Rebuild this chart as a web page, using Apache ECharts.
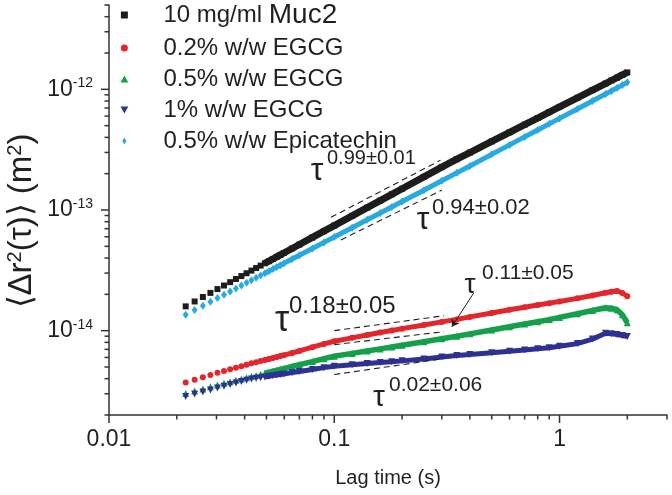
<!DOCTYPE html>
<html><head><meta charset="utf-8">
<script src="https://cdn.jsdelivr.net/npm/echarts@6/dist/echarts.min.js"></script>
<style>html,body{margin:0;padding:0;background:#fff}#c{width:672px;height:495px}</style>
</head><body><div id="c"></div>
<script>
// ---------- data ----------
const lagTime = [0.0219, 0.0240, 0.0261, 0.0282, 0.0303, 0.0324, 0.0345, 0.0366, 0.0387, 0.0408, 0.0429, 0.0450, 0.0471, 0.0492, 0.0513, 0.0534, 0.0555, 0.0576, 0.0597, 0.065, 0.07, 0.08, 0.09, 0.10, 0.12, 0.14, 0.16, 0.18, 0.20, 0.25, 0.30, 0.35, 0.40, 0.50, 0.60, 0.70, 0.80, 0.90, 1.0, 1.2, 1.4, 1.6, 1.7, 1.8, 1.9, 2.0];
const muc2 = [1.590e-14, 1.746e-14, 1.900e-14, 2.055e-14, 2.211e-14, 2.367e-14, 2.523e-14, 2.679e-14, 2.835e-14, 2.991e-14, 3.147e-14, 3.303e-14, 3.459e-14, 3.617e-14, 3.772e-14, 3.929e-14, 4.087e-14, 4.243e-14, 4.401e-14, 4.797e-14, 5.172e-14, 5.923e-14, 6.674e-14, 7.43e-14, 8.94e-14, 1.045e-13, 1.197e-13, 1.349e-13, 1.501e-13, 1.883e-13, 2.266e-13, 2.638e-13, 2.995e-13, 3.702e-13, 4.403e-13, 5.096e-13, 5.786e-13, 6.47e-13, 7.153e-13, 8.506e-13, 9.84e-13, 1.117e-12, 1.184e-12, 1.250e-12, 1.316e-12, 1.381e-12];
const egcg02 = [3.717e-15, 3.922e-15, 4.111e-15, 4.295e-15, 4.472e-15, 4.636e-15, 4.779e-15, 4.937e-15, 5.080e-15, 5.217e-15, 5.357e-15, 5.481e-15, 5.597e-15, 5.715e-15, 5.826e-15, 5.938e-15, 6.039e-15, 6.156e-15, 6.262e-15, 6.530e-15, 6.796e-15, 7.293e-15, 7.767e-15, 8.176e-15, 8.719e-15, 9.215e-15, 9.663e-15, 1.004e-14, 1.039e-14, 1.115e-14, 1.182e-14, 1.240e-14, 1.300e-14, 1.401e-14, 1.488e-14, 1.561e-14, 1.631e-14, 1.691e-14, 1.746e-14, 1.853e-14, 1.958e-14, 2.061e-14, 2.101e-14, 2.133e-14, 2.053e-14, 1.928e-14];
const egcg05 = [3.015e-15, 3.157e-15, 3.292e-15, 3.426e-15, 3.545e-15, 3.661e-15, 3.767e-15, 3.876e-15, 3.973e-15, 4.072e-15, 4.166e-15, 4.254e-15, 4.345e-15, 4.437e-15, 4.522e-15, 4.609e-15, 4.689e-15, 4.770e-15, 4.853e-15, 5.050e-15, 5.226e-15, 5.544e-15, 5.859e-15, 6.132e-15, 6.480e-15, 6.783e-15, 7.061e-15, 7.320e-15, 7.560e-15, 8.082e-15, 8.557e-15, 8.990e-15, 9.410e-15, 1.013e-14, 1.079e-14, 1.136e-14, 1.187e-14, 1.235e-14, 1.288e-14, 1.382e-14, 1.469e-14, 1.549e-14, 1.535e-14, 1.492e-14, 1.356e-14, 1.164e-14];
const egcg1 = [2.848e-15, 2.981e-15, 3.109e-15, 3.229e-15, 3.348e-15, 3.465e-15, 3.572e-15, 3.682e-15, 3.782e-15, 3.884e-15, 3.981e-15, 4.027e-15, 4.080e-15, 4.135e-15, 4.191e-15, 4.239e-15, 4.288e-15, 4.337e-15, 4.378e-15, 4.488e-15, 4.592e-15, 4.770e-15, 4.937e-15, 5.080e-15, 5.217e-15, 5.337e-15, 5.439e-15, 5.534e-15, 5.619e-15, 5.815e-15, 6.039e-15, 6.213e-15, 6.345e-15, 6.566e-15, 6.756e-15, 6.925e-15, 7.072e-15, 7.208e-15, 7.43e-15, 7.811e-15, 8.510e-15, 9.535e-15, 9.410e-15, 9.302e-15, 9.126e-15, 8.956e-15];
const epicatechin = [1.356e-14, 1.483e-14, 1.610e-14, 1.736e-14, 1.862e-14, 1.988e-14, 2.114e-14, 2.240e-14, 2.365e-14, 2.490e-14, 2.616e-14, 2.740e-14, 2.864e-14, 2.990e-14, 3.113e-14, 3.237e-14, 3.362e-14, 3.485e-14, 3.610e-14, 3.923e-14, 4.217e-14, 4.804e-14, 5.390e-14, 5.973e-14, 7.136e-14, 8.295e-14, 9.45e-14, 1.060e-13, 1.175e-13, 1.460e-13, 1.745e-13, 2.031e-13, 2.318e-13, 2.892e-13, 3.463e-13, 4.034e-13, 4.605e-13, 5.174e-13, 5.742e-13, 6.88e-13, 8.01e-13, 9.14e-13, 9.71e-13, 1.028e-12, 1.084e-12, 1.143e-12];

const seriesNames = ['10 mg/ml Muc2', '0.2% w/w EGCG', '0.5% w/w EGCG', '1% w/w EGCG', '0.5% w/w Epicatechin'];

// power-law guide lines (dashed) and arrow
const fitMuc2 = [[0.0967, 8.70e-14], [0.2965, 2.59e-13]];
const fitEpicatechin = [[0.107, 5.65e-14], [0.3005, 1.462e-13]];
const fitEgcg02 = [[0.1, 1.0e-14], [0.3067, 1.33e-14]];
const fitEgcg05 = [[0.1, 7.66e-15], [0.3067, 9.81e-15]];
const fitEgcg1 = [[0.1, 4.33e-15], [0.3067, 5.87e-15]];
const arrowEgcg05 = [[0.4164, 2.06e-14], [0.3327, 1.08e-14]];
const exponentLabels = ['0.99±0.01', '0.94±0.02', '0.18±0.05', '0.11±0.05', '0.02±0.06'];

// axes
const xMin = 0.01, xMax = 3, yMin = 2e-15, yMax = 5e-12;
const xTicks = [0.01, 0.1, 1];
const xTickLabels = ['0.01', '0.1', '1'];
const xMinorTicks = [0.02, 0.03, 0.04, 0.05, 0.06, 0.07, 0.08, 0.09, 0.2, 0.3, 0.4, 0.5, 0.6, 0.7, 0.8, 0.9, 2, 3];
const yTicks = [1e-14, 1e-13, 1e-12];
const yTickExponents = ['-14', '-13', '-12'];
const yMinorTicks = [2e-15, 3e-15, 4e-15, 5e-15, 6e-15, 7e-15, 8e-15, 9e-15, 2e-14, 3e-14, 4e-14, 5e-14, 6e-14, 7e-14, 8e-14, 9e-14, 2e-13, 3e-13, 4e-13, 5e-13, 6e-13, 7e-13, 8e-13, 9e-13, 2e-12, 3e-12, 4e-12, 5e-12];
const yTitle = '⟨Δr{s|2}(τ)⟩ (m{s|2})';

// ---------- styling ----------
const F = "'Liberation Sans', Arial, Helvetica, sans-serif";
const INK = '#231f20';
const AX = '#333333';
const colors = ['#1d1d1b', '#e3262b', '#14a04a', '#2e3192', '#27aae1'];
const symbols = ['rect', 'circle', 'triangle', 'triangle', 'diamond'];
const symbolRot = [0, 0, 0, 180, 0];
const symbolSizes = [6, 6, 7, 7, [6, 8]];
const bandWidths = [7, 5, 5.5, 5, 5];
const legendIcons = ['path://M1,1L9,1L9,9L1,9Z', 'circle', 'path://M5,0L10,9L0,9Z', 'path://M0,0L10,0L5,9Z', 'path://M5,0L9,7L5,14L1,7Z'];
const bandStart = 13;

const values = [muc2, egcg02, egcg05, egcg1, epicatechin];
const pairs = (xs, ys) => xs.map((x, i) => [x, ys[i]]);
const near = (a, b) => Math.abs(Math.log10(a) - Math.log10(b)) < 1e-6;

const series = [];
values.forEach((ys, i) => {
  series.push({
    type: 'line', name: seriesNames[i], data: pairs(lagTime.slice(bandStart), ys.slice(bandStart)),
    showSymbol: false, symbol: 'none', silent: true, z: 2 + i,
    lineStyle: { color: colors[i], width: bandWidths[i], join: 'round' }, itemStyle: { color: colors[i] }
  });
  series.push({
    type: 'scatter', name: seriesNames[i], data: pairs(lagTime, ys), symbol: symbols[i], symbolRotate: symbolRot[i],
    symbolSize: symbolSizes[i], silent: true, z: 2 + i, itemStyle: { color: colors[i], opacity: 1 }
  });
});
[fitMuc2, fitEpicatechin, fitEgcg02, fitEgcg05, fitEgcg1].forEach(f => {
  series.push({ type: 'line', data: f, symbol: 'none', silent: true, z: 10,
    lineStyle: { color: INK, width: 1.1, type: [6, 4] } });
});
series.push({ type: 'lines', coordinateSystem: 'cartesian2d', silent: true, z: 11,
  symbol: ['none', 'arrow'], symbolSize: 7,
  lineStyle: { color: INK, width: 1, opacity: 1 },
  data: [{ coords: arrowEgcg05 }] });

const chart = echarts.init(document.getElementById('c'), null, { renderer: 'canvas' });
chart.setOption({
  animation: false,
  backgroundColor: '#fff',
  grid: { left: 109, right: 5, top: 5, bottom: 80, containLabel: false, outerBoundsMode: 'none' },
  legend: {
    orient: 'vertical', left: 120.5, top: 1, padding: 0, itemWidth: 8, itemHeight: 7, itemGap: 7,
    selectedMode: false,
    textStyle: { fontSize: 24, lineHeight: 24, color: INK, fontFamily: F, padding: [0, 0, 0, 30],
      rich: { m: { fontSize: 28, lineHeight: 24, color: INK, fontFamily: F } } },
    formatter: n => n === seriesNames[0] ? '10 mg/ml {m|Muc2}' : n,
    data: seriesNames.map((n, i) => ({ name: n, icon: legendIcons[i], itemStyle: { color: colors[i] } }))
  },
  xAxis: {
    type: 'log', logBase: 10, min: xMin, max: xMax,
    name: 'Lag time (s)', nameLocation: 'middle', nameGap: 53,
    nameTextStyle: { fontSize: 20, color: INK, fontFamily: F },
    axisLine: { show: true, lineStyle: { color: AX, width: 1.5 } },
    axisTick: { show: false }, minorTick: { show: false }, splitLine: { show: false },
    axisLabel: { margin: 13, fontSize: 23, color: INK, fontFamily: F,
      formatter: v => { const k = xTicks.findIndex(t => near(t, v)); return k < 0 ? '' : xTickLabels[k]; } }
  },
  yAxis: {
    type: 'log', logBase: 10, min: yMin, max: yMax,
    axisLine: { show: true, lineStyle: { color: AX, width: 1.5 } },
    axisTick: { show: false }, minorTick: { show: false }, splitLine: { show: false },
    axisLabel: { margin: 16, color: INK, fontFamily: F,
      formatter: v => { const k = yTicks.findIndex(t => near(t, v)); return k < 0 ? '' : '{b|10}{s|' + yTickExponents[k] + '}'; },
      rich: { b: { fontSize: 23, lineHeight: 26, color: INK, fontFamily: F },
              s: { fontSize: 14, lineHeight: 14, verticalAlign: 'top', color: INK, fontFamily: F } } }
  },
  series: series
});

// ticks through the axes' own scales + annotation texts
const els = [];
const px = v => chart.convertToPixel({ xAxisIndex: 0 }, v);
const py = v => chart.convertToPixel({ yAxisIndex: 0 }, v);
const yBase = py(yMin), xBase = px(xMin);
const tick = (x1, y1, x2, y2) => ({ type: 'line', silent: true, z: 50,
  shape: { x1, y1, x2, y2 }, style: { stroke: AX, lineWidth: 1.5 } });
xTicks.forEach(v => { const p = px(v); els.push(tick(p, yBase, p, yBase + 8)); });
xMinorTicks.forEach(v => { const p = px(v); els.push(tick(p, yBase, p, yBase + 4.5)); });
yTicks.forEach(v => { const p = py(v); els.push(tick(xBase, p, xBase - 8, p)); });
yMinorTicks.forEach(v => { const p = py(v); els.push(tick(xBase, p, xBase - 4.5, p)); });

// y axis title (rotated)
els.push({ type: 'text', x: 22, y: 221, rotation: Math.PI / 2, silent: true, z: 60,
  style: { text: yTitle, fontSize: 33, fontFamily: F, fill: INK, align: 'center', verticalAlign: 'middle',
    rich: { s: { fontSize: 20, lineHeight: 20, verticalAlign: 'top', fill: INK, fontFamily: F } } } });

const notes = [
  { tx: 317, ty: 171, ts: 32, sx: 327, sy: 158, ss: 20 },
  { tx: 423, ty: 220, ts: 32, sx: 432, sy: 208, ss: 22 },
  { tx: 282, ty: 321, ts: 36, sx: 289, sy: 306, ss: 24 },
  { tx: 470, ty: 285, ts: 28, sx: 482, sy: 273, ss: 21 },
  { tx: 379, ty: 398, ts: 30, sx: 389, sy: 385, ss: 21 }
];
notes.forEach((n, i) => {
  els.push({ type: 'text', x: n.tx, y: n.ty, silent: true, z: 60,
    style: { text: 'τ', fontSize: n.ts, fontFamily: F, fill: INK, align: 'center', verticalAlign: 'middle' } });
  els.push({ type: 'text', x: n.sx, y: n.sy, silent: true, z: 60,
    style: { text: exponentLabels[i], fontSize: n.ss, fontFamily: F, fill: INK, align: 'left', verticalAlign: 'middle' } });
});
chart.setOption({ graphic: els });
</script>
</body></html>
